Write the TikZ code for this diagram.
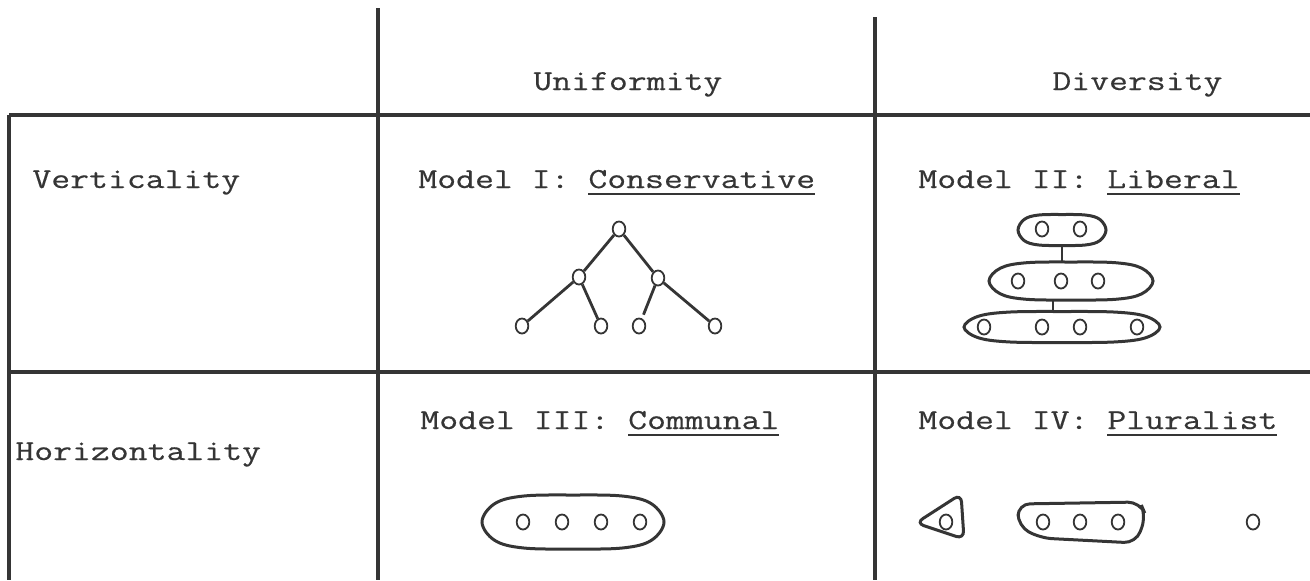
\documentclass[tikz,border=0pt]{standalone}
\usepackage{fontspec}
\setmonofont{Latin Modern Mono}[FakeStretch=1.265,FakeBold=0.4]
\usetikzlibrary{shapes.geometric}
\definecolor{ink}{HTML}{353535}
\newcommand\ulword[1]{\leavevmode\setbox0\hbox{#1}\rlap{\color{ink}\rule[-3.6pt]{\wd0}{1.2pt}}\box0}
% name, cx, cy, rx, ry (px)
\newcommand\handoval[5]{%
  \node[ellipse,inner sep=0,minimum width=#4pt,minimum height=#5pt] (#1) at (#2,#3) {};
  \draw[encl] plot[smooth cycle,tension=0.6] coordinates {({#2-#4},#3) ({#2-0.86*#4},{#3-0.68*#5}) ({#2-0.55*#4},{#3-0.96*#5}) (#2,{#3-#5}) ({#2+0.55*#4},{#3-0.96*#5}) ({#2+0.86*#4},{#3-0.68*#5}) ({#2+#4},#3) ({#2+0.86*#4},{#3+0.68*#5}) ({#2+0.55*#4},{#3+0.96*#5}) (#2,{#3+#5}) ({#2-0.55*#4},{#3+0.96*#5}) ({#2-0.86*#4},{#3+0.68*#5})};}
\begin{document}
\begin{tikzpicture}[x=0.5pt,y=-0.5pt,
  grid/.style={line width=1.7pt,draw=ink},
  lbl/.style={anchor=base west,inner sep=0,font=\fontsize{14.5}{16}\selectfont\ttfamily,text=ink},
  dot/.style={ellipse,draw=ink,line width=0.9pt,minimum width=6.3pt,minimum height=7.5pt,inner sep=0},
  edge/.style={line width=1.4pt,draw=ink},
  encl/.style={draw=ink,line width=1.5pt}]
\useasboundingbox (0,0) rectangle (1310,580);
% grid
\coordinate (A1) at (378,8);   \coordinate (A2) at (378,580);
\coordinate (B1) at (875,17);  \coordinate (B2) at (875,580);
\coordinate (H1l) at (9,115);  \coordinate (H1r) at (1310,115);
\coordinate (H2l) at (9,372);  \coordinate (H2r) at (1310,372);
\coordinate (Lb) at (9,580);
\draw[grid] (A1) -- (A2);
\draw[grid] (B1) -- (B2);
\draw[grid] (H1l) -- (H1r);
\draw[grid] (H2l) -- (H2r);
\draw[grid] (H1l) -- (Lb);
% labels
\node[lbl] (uni) at (533,90) {Uniformity};
\node[lbl] (div) at (1052,90) {Diversity};
\node[lbl] (vert) at (32,188) {Verticality};
\node[lbl] (m1) at (418,188) {Model I: \ulword{Conservative}};
\node[lbl] (m2) at (918,188) {Model II: \ulword{Liberal}};
\node[lbl] (hor) at (15,460) {Horizontality};
\node[lbl] (m3) at (420,429) {Model III: \ulword{Communal}};
\node[lbl] (m4) at (918,429) {Model IV: \ulword{Pluralist}};
% Model I tree
\node[dot] (t0) at (619,229) {};
\node[dot] (t1) at (579,277) {};
\node[dot] (t2) at (658,278) {};
\node[dot] (t3) at (522,326) {};
\node[dot] (t4) at (601,326) {};
\node[dot] (t5) at (639,326) {};
\node[dot] (t6) at (715,326) {};
\draw[edge] (t0) -- (t1);
\draw[edge] (t0) -- (t2);
\draw[edge] (t1) -- (t3);
\draw[edge] (t1) -- (t4);
\draw[edge,shorten >=2pt] (t2) -- (t5);
\draw[edge] (t2) -- (t6);
% Model II layers
\node[dot] (a1) at (1042,229) {};
\node[dot] (a2) at (1080,229) {};
\handoval{ova}{1062}{230}{44}{15.5}
\node[dot] (b1) at (1018,281) {};
\node[dot] (b2) at (1061,281) {};
\node[dot] (b3) at (1098,281) {};
\handoval{ovb}{1071}{281}{82}{19}
\node[dot] (c1) at (984,327) {};
\node[dot] (c2) at (1042,327) {};
\node[dot] (c3) at (1080,327) {};
\node[dot] (c4) at (1137,327) {};
\handoval{ovc}{1062}{327}{98}{15.5}
\draw[edge] (ova.south) -- (ova.south |- ovb.north);
\draw[edge] ([xshift=-9pt]ovb.south) -- ([xshift=-9pt]ovb.south |- ovc.north);
% Model III
\node[dot] (d1) at (523,522) {};
\node[dot] (d2) at (562,522) {};
\node[dot] (d3) at (601,522) {};
\node[dot] (d4) at (640,522) {};
\handoval{ovd}{573}{522}{91}{27}
% Model IV
\node[dot] (e0) at (946,522) {};
\draw[encl,rounded corners=4pt] (916,523) -- (961,494) -- (964,539) -- cycle;
\node[dot] (f1) at (1043,522) {};
\node[dot] (f2) at (1080,522) {};
\node[dot] (f3) at (1118,522) {};
\draw[encl,rounded corners=6pt] (1018,504) -- (1140,502) -- (1146,516) -- (1136,543) -- (1040,538) -- (1018,526) -- cycle;
\node[dot] (g1) at (1253,522) {};
\end{tikzpicture}
\end{document}
